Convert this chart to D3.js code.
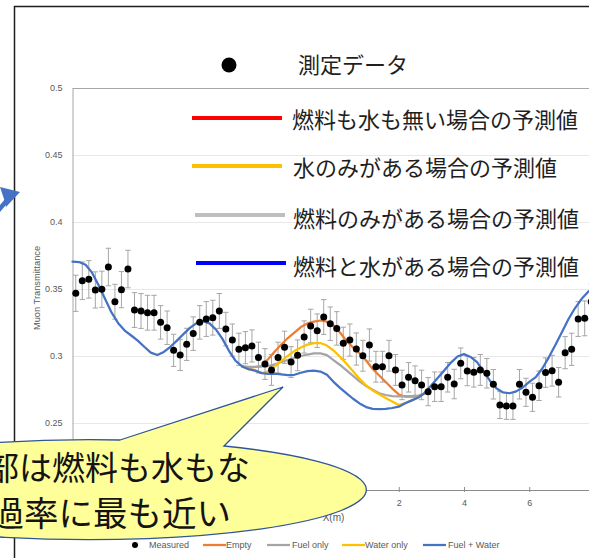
<!DOCTYPE html>
<html><head><meta charset="utf-8">
<script src="https://cdn.jsdelivr.net/npm/d3@7/dist/d3.min.js"></script>
<style>
html,body{margin:0;padding:0;background:#fff;overflow:hidden}
svg{display:block}
</style></head><body>
<svg id="c" width="589" height="558"></svg>
<script>
// ---------- DATA ----------
const measuredX = [-7.9,-7.7,-7.5,-7.3,-7.1,-6.9,-6.7,-6.5,-6.3,-6.1,-5.9,-5.7,-5.5,-5.3,-5.1,-4.9,-4.7,-4.5,-4.3,-4.1,
  -3.9,-3.7,-3.5,-3.3,-3.1,-2.9,-2.7,-2.5,-2.3,-2.1,-1.9,-1.7,-1.5,-1.3,-1.1,-0.9,-0.7,-0.5,-0.3,-0.1,
  0.1,0.3,0.5,0.7,0.9,1.1,1.3,1.5,1.7,1.9,2.1,2.3,2.5,2.7,2.9,3.1,3.3,3.5,3.7,3.9,
  4.1,4.3,4.5,4.7,4.9,5.1,5.3,5.5,5.7,5.9,6.1,6.3,6.5,6.7,6.9,7.1,7.3,7.5,7.7,7.9];
const measuredY = [0.3468,0.3562,0.3572,0.3493,0.3498,0.3664,0.3405,0.3495,0.3649,0.3343,
  0.3336,0.3323,0.3323,0.3251,0.3211,0.3042,0.3007,0.3087,0.3167,0.3251,
  0.3276,0.3286,0.3336,0.3201,0.3119,0.3050,0.3062,0.3075,0.2988,0.2940,
  0.2896,0.2988,0.3065,0.2955,0.3005,0.3142,0.3224,0.3189,0.3291,0.3241,
  0.3206,0.3095,0.3119,0.3052,0.3002,0.3082,0.2920,0.2920,0.3002,0.2896,
  0.2784,0.2841,0.2816,0.2784,0.2734,0.2771,0.2771,0.2841,0.2791,0.2945,
  0.2888,0.2878,0.2896,0.2871,0.2789,0.2634,0.2627,0.2627,0.2789,0.2729,
  0.2692,0.2778,0.2876,0.2890,0.2804,0.3025,0.3050,0.3276,0.3281,0.3405];
const measuredErr = [0.0135,0.014,0.014,0.0135,0.0135,0.014,0.013,0.0135,0.014,0.013,
  0.013,0.013,0.013,0.0125,0.0125,0.012,0.0115,0.012,0.0125,0.0125,
  0.013,0.013,0.013,0.0125,0.012,0.012,0.012,0.012,0.0115,0.0115,
  0.0115,0.0115,0.012,0.0115,0.0115,0.012,0.0125,0.0125,0.013,0.0125,
  0.0125,0.012,0.012,0.012,0.0115,0.012,0.0115,0.0115,0.0115,0.0115,
  0.011,0.011,0.011,0.011,0.0105,0.011,0.011,0.011,0.011,0.0115,
  0.011,0.011,0.0115,0.011,0.011,0.010,0.010,0.010,0.011,0.0105,
  0.0105,0.011,0.011,0.0115,0.011,0.012,0.012,0.013,0.013,0.013];

const modelX = [-8.0,-7.8,-7.6,-7.4,-7.2,-7.0,-6.8,-6.6,-6.4,-6.2,-6.0,-5.8,-5.6,-5.4,-5.2,-5.0,-4.8,-4.6,-4.4,-4.2,
  -4.0,-3.8,-3.6,-3.4,-3.2,-3.0,-2.8,-2.6,-2.4,-2.2,-2.0,-1.8,-1.6,-1.4,-1.2,-1.0,-0.8,-0.6,-0.4,-0.2,
  0.0,0.2,0.4,0.6,0.8,1.0,1.2,1.4,1.6,1.8,2.0,2.2,2.4,2.6,2.8,3.0,3.2,3.4,3.6,3.8,
  4.0,4.2,4.4,4.6,4.8,5.0,5.2,5.4,5.6,5.8,6.0,6.2,6.4,6.6,6.8,7.0,7.2,7.4,7.6,7.8,8.0];
const fuelWater = [0.3704,0.3701,0.3681,0.3622,0.3528,0.3426,0.3323,0.3245,0.3190,0.3153,
  0.3115,0.3069,0.3025,0.3007,0.3030,0.3069,0.3115,0.3163,0.3210,0.3246,
  0.3259,0.3243,0.3197,0.3126,0.3037,0.2963,0.2922,0.2901,0.2891,0.2872,
  0.2866,0.2868,0.2863,0.2857,0.2860,0.2875,0.2887,0.2890,0.2884,0.2860,
  0.2807,0.2762,0.2721,0.2681,0.2646,0.2619,0.2606,0.2603,0.2605,0.2612,
  0.2622,0.2647,0.2669,0.2690,0.2725,0.2781,0.2837,0.2894,0.2951,0.2996,
  0.3014,0.2993,0.2954,0.2883,0.2814,0.2757,0.2728,0.2722,0.2736,0.2765,
  0.2807,0.2842,0.2907,0.2990,0.3082,0.3177,0.3274,0.3356,0.3425,0.3478,0.3515];

const diffX = [-2.8,-2.6,-2.4,-2.2,-2.0,-1.8,-1.6,-1.4,-1.2,-1.0,-0.8,-0.6,-0.4,-0.2,
  0.0,0.2,0.4,0.6,0.8,1.0,1.2,1.4,1.6,1.8,2.0,2.2,2.4,2.6,2.8];
const empty = [0.2922,0.2910,0.2918,0.2925,0.2978,0.3034,0.3086,0.3134,0.3175,0.3216,0.3243,0.3257,0.3265,0.3256,
  0.3228,0.3175,0.3112,0.3063,0.3019,0.2966,0.2903,0.2854,0.2806,0.2757,0.2713,0.2696,0.2696,0.2696,0.2722];
const fuelOnly = [0.2922,0.2918,0.2918,0.2922,0.2925,0.2937,0.2955,0.2970,0.2985,0.3000,0.3011,0.3019,0.3019,0.3007,
  0.2969,0.2933,0.2893,0.2851,0.2811,0.2776,0.2748,0.2722,0.2709,0.2701,0.2699,0.2701,0.2701,0.2705,0.2722];
const waterOnly = [0.2922,0.2901,0.2891,0.2873,0.2885,0.2922,0.2963,0.3001,0.3037,0.3064,0.3085,0.3096,0.3097,0.3078,
  0.3041,0.2994,0.2942,0.2886,0.2829,0.2780,0.2743,0.2714,0.2687,0.2660,0.2634,0.2649,0.2669,0.2690,0.2725];

const xTicks = [-8,-6,-4,-2,0,2,4,6,8];
const xTickLabels = ["","","","","","2","4","6",""];   // labels left of 2 are hidden under the callout in the reference
const yTicks = [0.2,0.25,0.3,0.35,0.4,0.45,0.5];
const yTickLabels = ["","0.25","0.3","0.35","0.4","0.45","0.5"];
const seriesNames = ["Measured","Empty","Fuel only","Water only","Fuel + Water"];
const seriesColors = ["#000000","#ed7d31","#a5a5a5","#ffc000","#4472c4"];
const jpLabels = ["測定データ","燃料も水も無い場合の予測値","水のみがある場合の予測値","燃料のみがある場合の予測値","燃料と水がある場合の予測値"];
const jpColors = ["#000000","#ff0000","#ffc000","#bfbfbf","#0000ff"];
const calloutLines = ["部は燃料も水もな","過率に最も近い"];
const yTitle = "Muon Transmittance";
const xTitle = "X(m)";

// ---------- DRAW ----------
const svg = d3.select("#c");
const L = 72.5, R = 594.5, T = 88, B = 490;
const x = d3.scaleLinear().domain([-8, 8]).range([L, R]);
const y = d3.scaleLinear().domain([0.2, 0.5]).range([B, T]);
const latin = "'Liberation Sans', Arial, sans-serif";
const cjk = "'Noto Sans CJK JP', 'Noto Sans CJK SC', sans-serif";

// outer frame
svg.append("path").attr("d", "M14.5,558 V6.5 H589").attr("fill", "none")
  .attr("stroke", "#1e1e1e").attr("stroke-width", 1.5);

// gridlines
const grid = svg.append("g").attr("transform", `translate(${L},0)`)
  .call(d3.axisLeft(y).tickValues(yTicks.slice(1)).tickSize(-(R - L)).tickFormat(""));
grid.select(".domain").remove();
grid.selectAll(".tick line").attr("stroke", d => d === 0.5 ? "#a6a6a6" : "#e8e8e8").attr("stroke-width", 1);

// y axis labels
const ya = svg.append("g").attr("transform", `translate(${L},0)`)
  .call(d3.axisLeft(y).tickValues(yTicks).tickFormat((d, i) => yTickLabels[i]).tickSize(0).tickPadding(10));
ya.select(".domain").attr("stroke", "#a6a6a6");
ya.selectAll("text").attr("fill", "#595959").style("font-family", latin).style("font-size", "9px");

// x axis
const xa = svg.append("g").attr("transform", `translate(0,${B})`)
  .call(d3.axisBottom(x).tickValues(xTicks).tickFormat((d, i) => xTickLabels[i]).tickSize(2).tickSizeOuter(0));
xa.select(".domain").attr("stroke", "#8c8c8c");
xa.selectAll(".tick line").attr("y1", -3).attr("y2", 2).attr("stroke", "#8c8c8c");
xa.selectAll("text").attr("y", 10).attr("fill", "#595959").style("font-family", latin).style("font-size", "9px");

// error bars
const eb = svg.append("g").attr("stroke", "#a6a6a6").attr("stroke-width", 1);
measuredX.forEach((mx, i) => {
  const cx = x(mx), y1 = y(measuredY[i] - measuredErr[i]), y2 = y(measuredY[i] + measuredErr[i]);
  eb.append("line").attr("x1", cx).attr("x2", cx).attr("y1", y1).attr("y2", y2);
  eb.append("line").attr("x1", cx - 2.7).attr("x2", cx + 2.7).attr("y1", y1).attr("y2", y1);
  eb.append("line").attr("x1", cx - 2.7).attr("x2", cx + 2.7).attr("y1", y2).attr("y2", y2);
});

// model lines
const line = d3.line().x(d => x(d[0])).y(d => y(d[1]));
const lineSets = [
  [diffX, empty, seriesColors[1]],
  [diffX, fuelOnly, seriesColors[2]],
  [diffX, waterOnly, seriesColors[3]],
  [modelX, fuelWater, seriesColors[4]]
];
lineSets.forEach(([xs, ys, col]) => {
  svg.append("path").datum(xs.map((v, i) => [v, ys[i]])).attr("d", line)
    .attr("fill", "none").attr("stroke", col).attr("stroke-width", 2.25)
    .attr("stroke-linejoin", "round").attr("stroke-linecap", "round");
});

// measured points
svg.append("g").selectAll("circle").data(measuredX).join("circle")
  .attr("cx", d => x(d)).attr("cy", (d, i) => y(measuredY[i])).attr("r", 3.5).attr("fill", "#000");

// axis titles
svg.append("text").attr("transform", `translate(40,${(T + B) / 2 - 1}) rotate(-90)`)
  .attr("text-anchor", "middle").attr("fill", "#595959")
  .style("font-family", latin).style("font-size", "9.3px").text(yTitle);
svg.append("text").attr("x", (L + R) / 2).attr("y", 521).attr("text-anchor", "middle")
  .attr("fill", "#595959").style("font-family", latin).style("font-size", "10px").text(xTitle);

// bottom legend
const lg = svg.append("g").style("font-family", latin).style("font-size", "9px").attr("fill", "#595959");
const lgPos = [[135, 149], [203, 226], [267, 292], [342, 365], [423, 448]];
seriesNames.forEach((n, i) => {
  const [sx, tx] = lgPos[i];
  if (i === 0) lg.append("circle").attr("cx", sx).attr("cy", 545).attr("r", 3).attr("fill", "#000");
  else lg.append("line").attr("x1", sx).attr("x2", sx + 23).attr("y1", 545).attr("y2", 545)
    .attr("stroke", seriesColors[i]).attr("stroke-width", 2.25);
  lg.append("text").attr("x", tx).attr("y", 548.2).text(n);
});

// Japanese legend overlay
const jl = svg.append("g").style("font-family", cjk).style("font-size", "22px").attr("fill", "#1f1f1f");
const jpRows = [[65, 229, 298], [118, 192, 292], [166, 192, 293], [215, 195, 293], [263, 196, 293]];
const jpTextY = [65, 120, 168, 219, 267];
jpLabels.forEach((t, i) => {
  const [ly, sx, tx] = jpRows[i];
  if (i === 0) jl.append("circle").attr("cx", sx).attr("cy", ly).attr("r", 7.5).attr("fill", "#000");
  else jl.append("line").attr("x1", sx).attr("x2", sx + 90).attr("y1", ly).attr("y2", ly)
    .attr("stroke", jpColors[i]).attr("stroke-width", 4);
  jl.append("text").attr("x", tx).attr("y", jpTextY[i] + 8.4).text(t);
});

// callout bubble
svg.append("path")
  .attr("d", "M120,440 L283,387 L224,446 A277,50 0 1 1 120,440 Z")
  .attr("fill", "#ffff99").attr("stroke", "#2f5597").attr("stroke-width", 1.3);
const ct = svg.append("g").style("font-family", cjk).attr("fill", "#141414").attr("text-anchor", "end");
ct.append("text").attr("x", 250).attr("y", 480).style("font-size", "33px").text(calloutLines[0]);
ct.append("text").attr("x", 231).attr("y", 525.5).style("font-size", "34.5px").text(calloutLines[1]);

// blue arrow at left edge
svg.append("path").attr("d", "M-8,218 L8,199").attr("stroke", "#4472c4").attr("stroke-width", 4.5);
svg.append("path").attr("d", "M0,187 L20,192 L6,207 L4,199 Z").attr("fill", "#4472c4");
</script>
</body></html>
